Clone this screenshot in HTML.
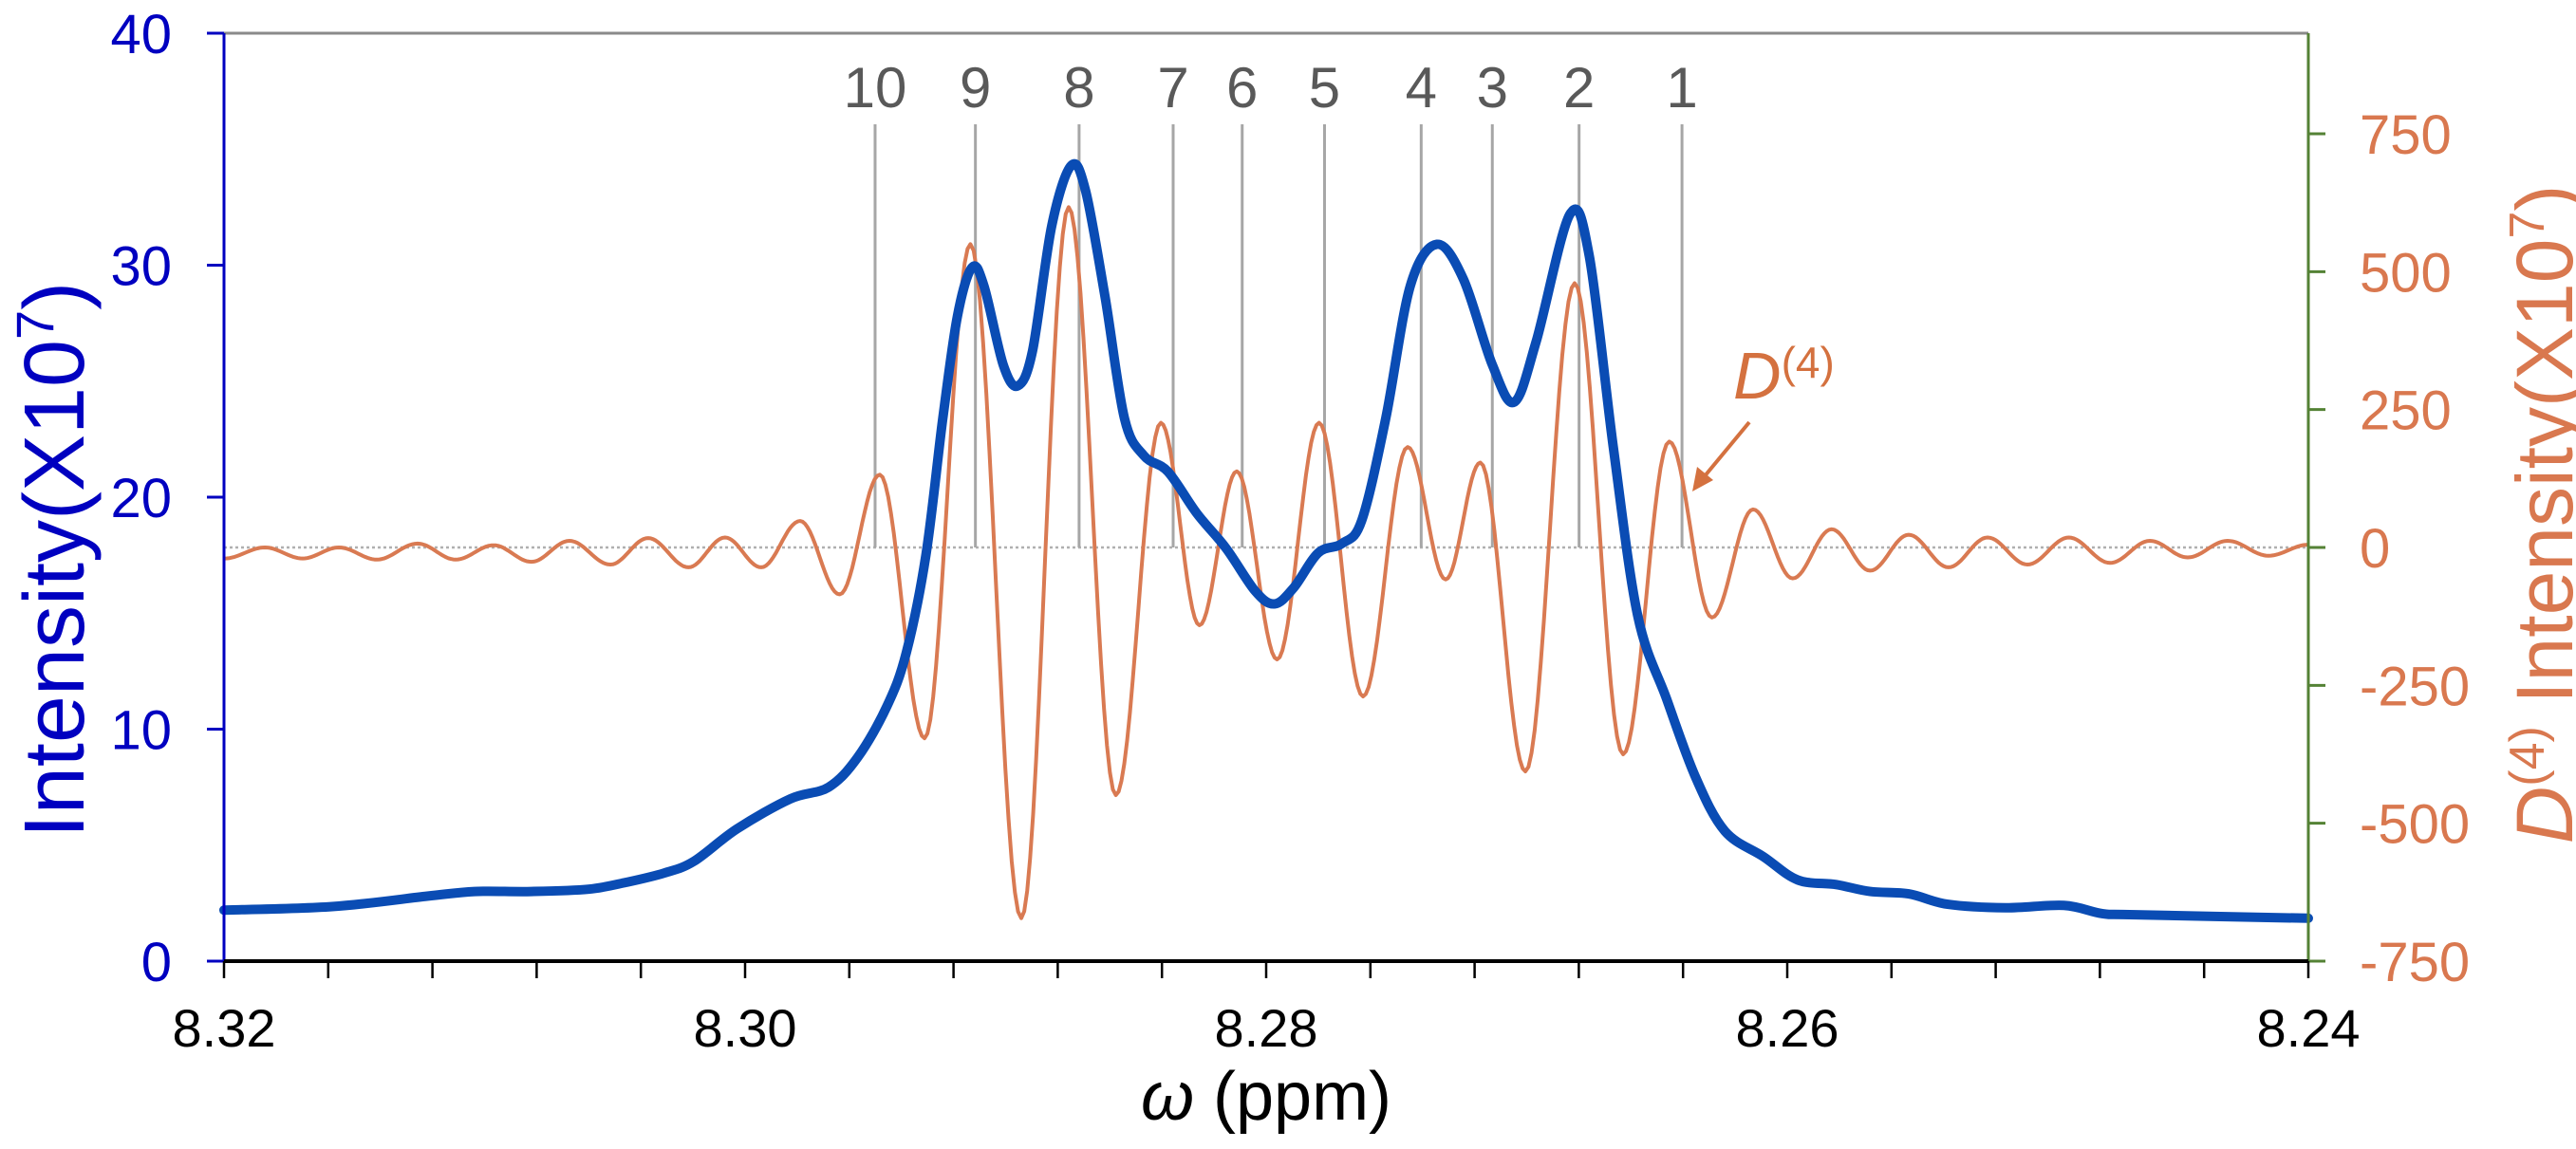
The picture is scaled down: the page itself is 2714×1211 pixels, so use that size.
<!DOCTYPE html>
<html><head><meta charset="utf-8"><style>
html,body{margin:0;padding:0;background:#fff;}
svg{display:block;font-family:"Liberation Sans",sans-serif;}
</style></head><body>
<svg id="chart" width="2714" height="1211" viewBox="0 0 2714 1211" xmlns="http://www.w3.org/2000/svg">
<g id="grid"></g>
</svg>
<script>
const xTicksMajor = [8.32, 8.30, 8.28, 8.26, 8.24];
const xTickLabels = ["8.32", "8.30", "8.28", "8.26", "8.24"];
const leftTicks = [0, 10, 20, 30, 40];
const rightTicks = [-750, -500, -250, 0, 250, 500, 750];
const peakLabels = ["10","9","8","7","6","5","4","3","2","1"];
const peakPpm = [8.29501, 8.29116, 8.28718, 8.28357, 8.28092, 8.27776, 8.27405, 8.27132, 8.26799, 8.26404];
const blueX = [8.3200,8.31585,8.31220,8.31038,8.30820,8.30601,8.30455,8.30310,8.30197,8.30031,8.29826,8.29679,8.29567,8.29455,8.29381,8.29306,8.29241,8.29185,8.29129,8.29083,8.29009,8.28953,8.28897,8.28823,8.28748,8.28693,8.28618,8.28544,8.28470,8.28377,8.28266,8.28154,8.28042,8.27968,8.27894,8.27800,8.27709,8.27633,8.27541,8.27447,8.27345,8.27243,8.27132,8.27048,8.26964,8.26834,8.26760,8.26667,8.26574,8.26463,8.26351,8.26239,8.26091,8.25960,8.25812,8.25682,8.25534,8.25384,8.25162,8.24938,8.24791,8.24663,8.2400];
const blueY = [2.2,2.35,2.8,3.0,3.0,3.1,3.4,3.8,4.3,5.7,7.0,7.5,8.8,11.0,13.3,17.5,23.4,27.8,29.9,29.1,25.7,24.8,26.3,31.7,34.3,33.2,28.6,23.4,21.8,21.1,19.3,17.8,15.95,15.4,16.1,17.6,18.0,19.0,23.4,29.1,30.9,29.4,25.7,24.1,26.7,32.2,30.4,22.1,14.9,11.3,7.9,5.6,4.5,3.5,3.3,3.0,2.9,2.45,2.3,2.4,2.05,2.0,1.85];
const d4X = [8.31998,8.31843,8.31698,8.31559,8.31413,8.31257,8.31111,8.30965,8.30820,8.30674,8.30517,8.30372,8.30217,8.30077,8.29938,8.29789,8.29637,8.29483,8.29311,8.29135,8.28940,8.28758,8.28577,8.28404,8.28256,8.28113,8.27958,8.27797,8.27628,8.27457,8.27311,8.27178,8.27005,8.26816,8.26630,8.26453,8.26289,8.26131,8.25979,8.25830,8.25682,8.25534,8.25381,8.25231,8.25078,8.24919,8.24761,8.24608,8.24463,8.24310,8.24153,8.2400];
const d4Y = [-20,0,-20,0,-22,7,-22,4,-26,12,-31,17,-36,18,-36,48,-85,132,-346,550,-672,617,-449,226,-141,138,-203,226,-270,182,-58,154,-406,479,-375,192,-127,69,-56,33,-42,23,-36,18,-31,18,-28,12,-18,12,-15,5];

const L=236,R=2432,T=35,B=1013;
const NS="http://www.w3.org/2000/svg";
const svg=document.getElementById('chart');
function xs(p){return L+(8.32-p)/0.08*(R-L);}
function yl(v){return B-(v-0)/40*(B-T);}
const rZeroY=577;
function yr(v){return rZeroY-v*(B-rZeroY)/750;}
function mk(tag,attrs,parent){const e=document.createElementNS(NS,tag);for(const k in attrs)e.setAttribute(k,attrs[k]);(parent||svg).appendChild(e);return e;}

let e=mk('line',{x1:L,y1:T,x2:R,y2:T,stroke:'#8a8a8a','stroke-width':3});



e=mk('line',{x1:L,y1:yr(0),x2:R,y2:yr(0),stroke:'#b0b0b0','stroke-width':2.5,'stroke-dasharray':'3 3'});



peakPpm.forEach((p,i)=>{
  const x=xs(p);
  const ln=mk('line',{x1:x,y1:131,x2:x,y2:yr(0),stroke:'#a6a6a6','stroke-width':3});
  
  
  const t=mk('text',{x:x,y:113,'text-anchor':'middle','font-size':60,fill:'#595959'});
  t.textContent=peakLabels[i];
  
  
});

let d='';
for(let i=0;i<d4X.length-1;i++){
  const x0=xs(d4X[i]),x1=xs(d4X[i+1]),y0=d4Y[i],y1=d4Y[i+1];
  for(let k=0;k<=16;k++){
    const t=k/16,x=x0+(x1-x0)*t,v=y0+(y1-y0)*(1-Math.cos(Math.PI*t))/2;
    d+=(d===''?'M':'L')+x.toFixed(1)+' '+yr(v).toFixed(1)+' ';
  }
}
e=mk('path',{d:d,fill:'none',stroke:'#d97a52','stroke-width':4,'stroke-linejoin':'round'});



const pts=blueX.map((p,i)=>[xs(p),yl(blueY[i])]);
let bd='M'+pts[0][0]+' '+pts[0][1];
for(let i=0;i<pts.length-1;i++){
  const p0=pts[Math.max(0,i-1)],p1=pts[i],p2=pts[i+1],p3=pts[Math.min(pts.length-1,i+2)];
  const c1x=p1[0]+(p2[0]-p0[0])/6,c1y=p1[1]+(p2[1]-p0[1])/6;
  const c2x=p2[0]-(p3[0]-p1[0])/6,c2y=p2[1]-(p3[1]-p1[1])/6;
  bd+=` C${c1x.toFixed(1)} ${c1y.toFixed(1)} ${c2x.toFixed(1)} ${c2y.toFixed(1)} ${p2[0].toFixed(1)} ${p2[1].toFixed(1)}`;
}
e=mk('path',{d:bd,fill:'none',stroke:'#0a4cb4','stroke-width':10,'stroke-linejoin':'round','stroke-linecap':'round'});



e=mk('line',{x1:L,y1:T,x2:L,y2:B,stroke:'#0000c0','stroke-width':3});


leftTicks.forEach(v=>{
  const y=yl(v);
  const tk=mk('line',{x1:L-18,y1:y,x2:L,y2:y,stroke:'#0000c0','stroke-width':3});
  
  
  const t=mk('text',{x:181,y:y+21,'text-anchor':'end','font-size':58,fill:'#0000c0'});
  t.textContent=v;
  
  
});
e=mk('text',{x:0,y:0,'text-anchor':'middle','font-size':90,fill:'#0000c0',transform:'translate(88,590) rotate(-90)'});
e.innerHTML='Intensity(X10<tspan dy="-32" font-size="56">7</tspan><tspan dy="32">)</tspan>';



e=mk('line',{x1:R,y1:T,x2:R,y2:B,stroke:'#548235','stroke-width':3});


rightTicks.forEach(v=>{
  const y=yr(v);
  const tk=mk('line',{x1:R,y1:y,x2:R+18,y2:y,stroke:'#548235','stroke-width':3});
  
  
  const t=mk('text',{x:2486,y:y+21,'text-anchor':'start','font-size':58,fill:'#d9784f'});
  t.textContent=v;
  
  
});
e=mk('text',{x:0,y:0,'text-anchor':'middle','font-size':84,fill:'#d9784f',transform:'translate(2710,542) rotate(-90)'});
e.innerHTML='<tspan font-style="italic">D</tspan><tspan dy="-30" font-size="52">(4)</tspan><tspan dy="30"> Intensity(X10</tspan><tspan dy="-30" font-size="52">7</tspan><tspan dy="30">)</tspan>';



e=mk('line',{x1:L,y1:B,x2:R,y2:B,stroke:'#000','stroke-width':4});


for(let i=0;i<=20;i++){
  const p=8.32-i*0.004,x=xs(p);
  const tk=mk('line',{x1:x,y1:B,x2:x,y2:B+18,stroke:'#000','stroke-width':2.5});
  
  
}
xTicksMajor.forEach((p,i)=>{
  const t=mk('text',{x:xs(p),y:1103,'text-anchor':'middle','font-size':56,fill:'#000'});
  t.textContent=xTickLabels[i];
  
  
});
e=mk('text',{x:(L+R)/2,y:1180,'text-anchor':'middle','font-size':72,fill:'#000'});
e.innerHTML='<tspan font-style="italic">ω</tspan> (ppm)';



e=mk('text',{x:1826,y:420,'font-size':70,fill:'#d4713f'});
e.innerHTML='<tspan font-style="italic">D</tspan><tspan dy="-22" font-size="46">(4)</tspan>';


e=mk('line',{x1:1843,y1:445,x2:1795,y2:503,stroke:'#d4713f','stroke-width':4});


e=mk('polygon',{points:'1783,518 1788,492 1805,506',fill:'#d4713f'});


</script>
</body></html>
